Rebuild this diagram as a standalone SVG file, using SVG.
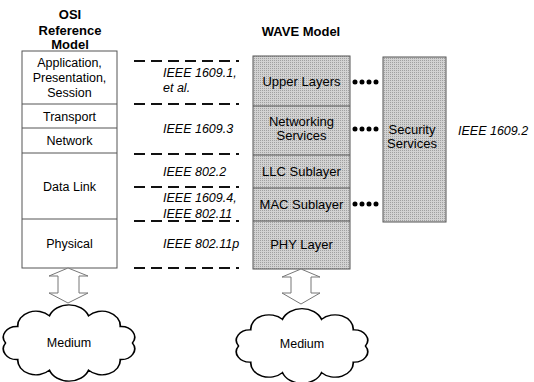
<svg xmlns="http://www.w3.org/2000/svg" width="534" height="382" viewBox="0 0 534 382">
<style>
text{font-family:"Liberation Sans",Arial,sans-serif;fill:#000}
.t{font-size:13px;font-weight:bold;text-anchor:middle}
.l{font-size:12.5px;text-anchor:middle}
.w{font-size:13px;text-anchor:middle}
.i{font-size:12.5px;font-style:italic}
.box{fill:#fff;stroke:#555;stroke-width:1}
.gbox{fill:url(#halftone);stroke:#555;stroke-width:1}
.div{stroke:#555;stroke-width:1}
.dash{stroke:#111;stroke-width:2;stroke-dasharray:11 6;fill:none}
.dot{stroke:#000;stroke-width:5;stroke-linecap:round;stroke-dasharray:0 7;fill:none}
.arrow{fill:#fff;stroke:#777;stroke-width:1}
.cloud{fill:#fff;stroke:#000;stroke-width:1.4}
</style>
<defs>
<pattern id="halftone" width="2" height="2" patternUnits="userSpaceOnUse">
<rect width="2" height="2" fill="#d2d2d2"/>
<rect width="1" height="1" fill="#a0a0a0"/>
</pattern>
<path id="cloudShape" d="M-52,0 A11,11 0 0 1 -42,-17 A15,15 0 0 1 -16,-28 A17,17 0 0 1 16,-28 A15,15 0 0 1 42,-17 A11,11 0 0 1 52,0 A11,11 0 0 1 42,17 A15,15 0 0 1 16,28 A17,17 0 0 1 -16,28 A15,15 0 0 1 -42,17 A11,11 0 0 1 -52,0 Z"/>
</defs>

<g id="osi-title">
<text class="t" x="70" y="19">OSI</text>
<text class="t" x="70" y="35">Reference</text>
<text class="t" x="70" y="49">Model</text>
</g>
<g id="wave-title">
<text class="t" x="301" y="36">WAVE Model</text>
</g>

<g id="osi-stack">
<rect class="box" x="22" y="51" width="95" height="217"/>
<line class="div" x1="22" y1="104" x2="117" y2="104"/>
<line class="div" x1="22" y1="128" x2="117" y2="128"/>
<line class="div" x1="22" y1="153" x2="117" y2="153"/>
<line class="div" x1="22" y1="219" x2="117" y2="219"/>
<text class="l" x="69.5" y="67">Application,</text>
<text class="l" x="69.5" y="82">Presentation,</text>
<text class="l" x="69.5" y="97">Session</text>
<text class="l" x="69.5" y="121">Transport</text>
<text class="l" x="69.5" y="145">Network</text>
<text class="l" x="69.5" y="191">Data Link</text>
<text class="l" x="69.5" y="248">Physical</text>
</g>

<g id="ieee-labels">
<text class="i" x="163" y="77">IEEE 1609.1,</text>
<text class="i" x="163" y="92">et al.</text>
<text class="i" x="163" y="133">IEEE 1609.3</text>
<text class="i" x="163" y="176">IEEE 802.2</text>
<text class="i" x="163" y="202">IEEE 1609.4,</text>
<text class="i" x="163" y="218">IEEE 802.11</text>
<text class="i" x="163" y="248">IEEE 802.11p</text>
<text class="i" x="458" y="135">IEEE 1609.2</text>
</g>

<g id="wave-stack">
<rect class="gbox" x="253" y="56" width="97" height="213"/>
<line class="div" x1="253" y1="106" x2="350" y2="106"/>
<line class="div" x1="253" y1="155" x2="350" y2="155"/>
<line class="div" x1="253" y1="188" x2="350" y2="188"/>
<line class="div" x1="253" y1="221" x2="350" y2="221"/>
<text class="w" x="301.5" y="86">Upper Layers</text>
<text class="w" x="301.5" y="126">Networking</text>
<text class="w" x="301.5" y="140">Services</text>
<text class="w" x="301.5" y="176">LLC Sublayer</text>
<text class="w" x="301.5" y="209">MAC Sublayer</text>
<text class="w" x="301.5" y="249">PHY Layer</text>
</g>

<g id="security">
<rect class="gbox" x="383" y="57" width="63" height="165"/>
<text class="w" x="412" y="134">Security</text>
<text class="w" x="412" y="148">Services</text>
</g>

<g id="connectors">
<line class="dash" x1="134" y1="61" x2="239" y2="61"/>
<line class="dash" x1="134" y1="104" x2="239" y2="104"/>
<line class="dash" x1="134" y1="154" x2="239" y2="154"/>
<line class="dash" x1="134" y1="187" x2="239" y2="187"/>
<line class="dash" x1="134" y1="221" x2="239" y2="221"/>
<line class="dash" x1="134" y1="268" x2="239" y2="268"/>
<line class="dot" x1="355" y1="82" x2="383" y2="82"/>
<line class="dot" x1="355" y1="129" x2="383" y2="129"/>
<line class="dot" x1="355" y1="204" x2="383" y2="204"/>
<polygon class="arrow" points="68,268 88,276 79,276 79,293 88,293 68,303 49,293 58,293 58,276 49,276"/>
<polygon class="arrow" points="301,269 320,277 311,277 311,293 320,293 301,304 282,293 291,293 291,277 282,277"/>
</g>

<g id="osi-medium">
<use href="#cloudShape" class="cloud" transform="translate(69,343) scale(1.22,0.97)"/>
<text class="l" x="69" y="347">Medium</text>
</g>
<g id="wave-medium">
<use href="#cloudShape" class="cloud" transform="translate(302,346) scale(1.22,0.95)"/>
<text class="l" x="302" y="348">Medium</text>
</g>
</svg>
